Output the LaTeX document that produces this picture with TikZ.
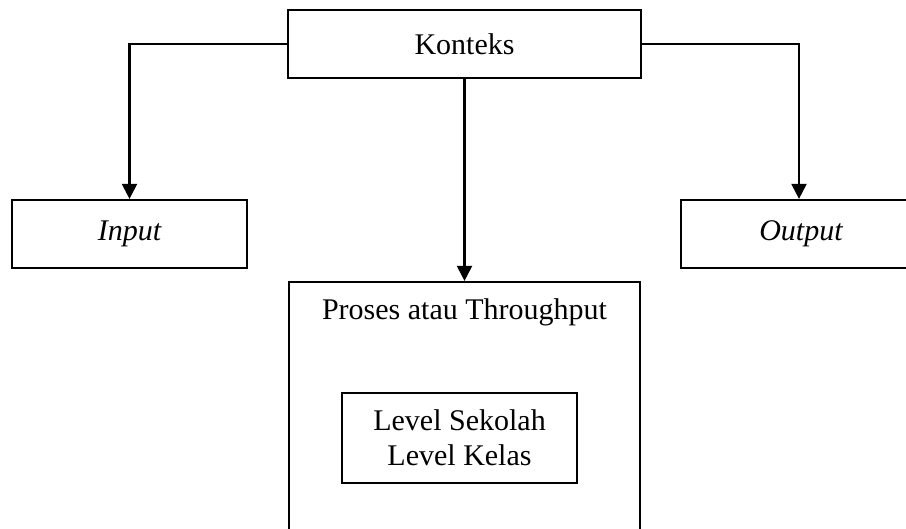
\documentclass[tikz,border=0pt]{standalone}
\usepackage{fontspec}
\setmainfont{Liberation Serif}
\usetikzlibrary{arrows.meta}
\begin{document}
\begin{tikzpicture}[x=1pt,y=-1pt,
  box/.style={draw=black,line width=2.2pt,rectangle,inner sep=0pt,
    font=\fontsize{30}{35}\selectfont},
  txt/.style={inner sep=0pt,font=\fontsize{30}{35}\selectfont},
  conn/.style={draw=black,line width=2.2pt},
  arr/.style={conn,-{Triangle[width=15pt,length=15pt]}}]
\useasboundingbox (0,0) rectangle (906,529);
\clip (0,0) rectangle (906,529);
\node[box,minimum width=353pt,minimum height=68pt] (konteks) at (464.5,44) {Konteks};
\node[box,minimum width=235pt,minimum height=68pt] (input) at (129.5,234) {\itshape Input};
\node[box,minimum width=236pt,minimum height=68pt] (output) at (799,234) {\hspace{4pt}\itshape Output};
\node[box,minimum width=351pt,minimum height=290pt] (proses) at (464.5,427) {};
\node[txt] (protext) at (464.5,312) {Proses atau Throughput};
\node[box,minimum width=235pt,minimum height=90pt,align=center] (level) at (459.5,438) {Level Sekolah\\Level Kelas};
\coordinate (lc) at (input.north |- konteks.west);
\coordinate (rc) at (output.north |- konteks.east);
\draw[arr] (konteks.west) -- (lc) -- (input.north);
\draw[arr] (konteks.east) -- (rc) -- (output.north);
\draw[arr] (konteks.south) -- (proses.north);
\end{tikzpicture}
\end{document}
